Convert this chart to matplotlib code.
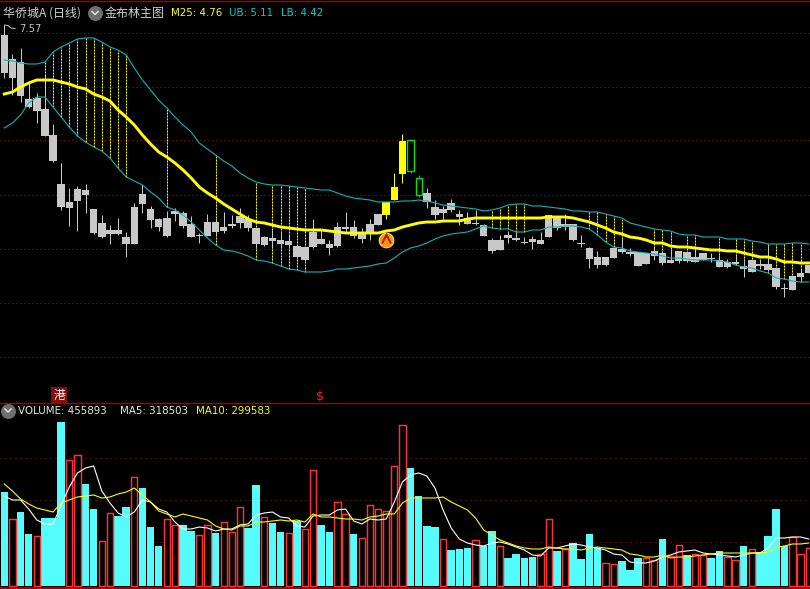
import numpy as np
from matplotlib import pyplot as plt

plt.rcParams['font.family'] = ['Noto Sans CJK SC', 'DejaVu Sans']

high = [7.58,7.31,7.37,7.02,6.92,7.10,6.61,6.22,5.97,5.99,6.01,5.76,5.70,5.60,5.67,5.53,5.82,6.00,5.79,5.67,5.74,5.77,5.74,5.69,5.52,5.71,5.67,5.73,5.70,5.77,5.70,5.57,5.49,5.55,5.52,5.51,5.39,5.38,5.66,5.55,5.45,5.63,5.73,5.65,5.57,5.66,5.71,5.83,6.12,6.51,6.45,6.10,5.97,5.85,5.79,5.86,5.75,5.73,5.75,5.61,5.47,5.50,5.54,5.54,5.48,5.49,5.53,5.70,5.68,5.71,5.61,5.50,5.38,5.34,5.28,5.38,5.47,5.37,5.33,5.32,5.38,5.34,5.36,5.34,5.33,5.38,5.32,5.32,5.30,5.26,5.30,5.26,5.25,5.26,5.39,5.17,5.02,5.09,5.16,5.20]
low = [7.07,6.90,6.83,6.77,6.62,6.49,6.23,5.75,5.59,5.54,5.72,5.51,5.47,5.41,5.50,5.28,5.41,5.72,5.57,5.54,5.48,5.64,5.57,5.48,5.42,5.49,5.50,5.52,5.57,5.57,5.54,5.37,5.39,5.37,5.37,5.37,5.27,5.24,5.37,5.41,5.30,5.38,5.53,5.47,5.42,5.45,5.60,5.66,5.85,6.02,6.12,5.88,5.77,5.66,5.66,5.73,5.60,5.61,5.60,5.49,5.32,5.35,5.42,5.44,5.41,5.36,5.41,5.48,5.55,5.55,5.44,5.38,5.17,5.17,5.19,5.27,5.32,5.29,5.19,5.21,5.25,5.20,5.22,5.22,5.23,5.23,5.25,5.23,5.18,5.17,5.21,5.08,5.13,5.16,5.14,4.96,4.88,4.95,5.03,5.12]
body_top = [7.50,7.26,7.23,6.86,6.87,6.76,6.50,6.01,5.83,5.96,5.95,5.76,5.62,5.55,5.55,5.48,5.78,5.91,5.76,5.66,5.67,5.74,5.72,5.61,5.50,5.63,5.63,5.58,5.61,5.69,5.66,5.57,5.48,5.47,5.45,5.44,5.39,5.38,5.53,5.46,5.41,5.58,5.58,5.58,5.53,5.61,5.71,5.83,5.98,6.44,6.45,6.07,5.92,5.78,5.76,5.82,5.71,5.67,5.62,5.60,5.45,5.45,5.50,5.47,5.43,5.46,5.45,5.70,5.68,5.61,5.61,5.42,5.37,5.28,5.28,5.37,5.36,5.33,5.33,5.32,5.34,5.32,5.25,5.34,5.33,5.28,5.32,5.27,5.25,5.23,5.23,5.19,5.25,5.21,5.21,5.17,4.97,5.09,5.12,5.20]
body_bot = [7.12,7.07,6.89,6.78,6.74,6.49,6.24,5.78,5.77,5.84,5.90,5.52,5.48,5.51,5.51,5.41,5.41,5.81,5.65,5.58,5.49,5.71,5.59,5.48,5.49,5.49,5.53,5.54,5.59,5.62,5.57,5.41,5.40,5.44,5.41,5.40,5.28,5.25,5.38,5.41,5.37,5.39,5.56,5.49,5.46,5.51,5.60,5.70,5.85,6.11,6.14,5.90,5.83,5.70,5.72,5.75,5.68,5.61,5.61,5.49,5.34,5.35,5.47,5.45,5.42,5.43,5.41,5.48,5.57,5.58,5.45,5.41,5.26,5.20,5.20,5.27,5.33,5.31,5.19,5.21,5.29,5.22,5.22,5.24,5.24,5.23,5.25,5.26,5.18,5.18,5.21,5.16,5.13,5.19,5.15,4.98,4.96,4.95,5.08,5.12]

upper = [7.25,7.24,7.22,7.21,7.21,7.23,7.33,7.38,7.42,7.46,7.47,7.47,7.43,7.38,7.35,7.30,7.17,7.05,6.95,6.85,6.77,6.68,6.60,6.53,6.42,6.36,6.30,6.24,6.19,6.12,6.07,6.03,6.01,
         6.00,6.00,5.99,5.98,5.97,5.96,5.95,5.95,5.92,5.89,5.87,5.86,5.85,5.83,5.83,5.83,5.84,5.84,5.85,5.84,5.82,5.80,5.79,5.78,5.77,5.76,5.74,5.75,5.77,5.80,5.81,5.81,5.79,5.79,
         5.78,5.77,5.76,5.74,5.74,5.73,5.73,5.71,5.69,5.67,5.62,5.60,5.58,5.56,5.55,5.54,5.51,5.50,5.50,5.48,5.48,5.48,5.46,5.46,5.46,5.44,5.43,5.41,5.41,5.41,5.42,5.42,5.41]
mid = [6.91,6.93,6.98,7.02,7.05,7.05,7.05,7.03,7.01,6.98,6.96,6.91,6.88,6.84,6.75,6.68,6.60,6.50,6.41,6.33,6.28,6.22,6.15,6.07,5.98,5.92,5.87,5.81,5.76,5.71,5.66,5.63,5.62,
       5.60,5.58,5.57,5.56,5.55,5.55,5.55,5.54,5.53,5.52,5.52,5.52,5.52,5.52,5.54,5.55,5.58,5.60,5.62,5.63,5.63,5.64,5.64,5.64,5.66,5.67,5.67,5.67,5.67,5.67,5.67,5.67,5.67,5.67,
       5.68,5.68,5.68,5.67,5.65,5.63,5.60,5.57,5.53,5.51,5.48,5.47,5.45,5.42,5.42,5.39,5.38,5.38,5.37,5.36,5.35,5.35,5.34,5.34,5.32,5.30,5.28,5.28,5.26,5.23,5.23,5.22,5.22]
lower = [6.57,6.62,6.70,6.82,6.88,6.88,6.78,6.68,6.58,6.49,6.43,6.38,6.34,6.27,6.17,6.08,6.04,6.00,5.93,5.87,5.78,5.75,5.70,5.63,5.55,5.47,5.40,5.35,5.34,5.32,5.29,5.25,5.24,
         5.22,5.19,5.16,5.15,5.13,5.13,5.13,5.14,5.16,5.16,5.17,5.18,5.19,5.21,5.22,5.27,5.33,5.37,5.39,5.42,5.46,5.49,5.51,5.52,5.53,5.56,5.59,5.57,5.56,5.56,5.53,5.53,5.55,5.55,
         5.58,5.58,5.59,5.59,5.58,5.56,5.50,5.43,5.38,5.37,5.34,5.33,5.32,5.31,5.29,5.27,5.27,5.26,5.25,5.25,5.25,5.24,5.23,5.20,5.18,5.17,5.14,5.12,5.07,5.06,5.04,5.03,5.03]

# volume in 10k
volume = [94,67,74,52,50,68,68,164,126,131,102,77,45,73,70,79,109,98,59,40,67,61,61,55,51,61,53,64,54,79,58,101,69,
          63,54,53,65,57,116,61,54,84,72,52,48,81,77,75,120,161,118,90,60,59,47,36,37,38,46,40,55,40,28,32,28,29,32,
          67,35,37,43,27,52,38,23,22,25,16,28,28,26,47,30,41,31,32,31,28,35,29,26,40,37,34,50,77,40,49,32,38]
ma5 = [90,86,86,77,66,62,62,81,99,113,118,120,95,83,73,69,74,86,84,77,74,64,57,57,59,58,55,57,57,61,62,71,73,
       74,69,68,60,59,70,71,71,76,77,65,62,67,66,67,84,104,111,113,110,98,76,58,47,43,41,40,43,44,42,39,36,31,30,
       38,38,40,42,41,39,38,36,32,31,24,23,23,25,29,31,34,35,36,33,32,31,30,29,31,33,33,38,48,48,49,49,47]
ma10 = [102,95,87,82,78,76,74,83,86,89,90,91,88,89,92,94,98,91,84,75,72,69,72,70,68,66,60,57,56,60,60,64,64,
        65,66,65,66,64,72,69,69,68,67,67,66,69,70,72,72,83,88,88,88,88,89,84,80,76,68,56,51,46,43,40,38,37,37,
        39,38,37,37,36,38,39,38,37,36,32,31,29,29,31,28,29,29,30,31,32,33,33,33,33,33,33,34,39,40,42,42,43]

red_days = [1,4,8,9,12,13,16,20,21,24,25,27,28,29,32,35,37,38,41,42,44,45,46,47,48,49,54,58,61,66,67,69,74,75,79,80,82,83,85,86,89,90,92,97,98,99]
yellow_days = [47,48,49]
green_days = [50,51]
dotted_days = [5,6,7,8,9,10,11,12,13,14,15,20,26,31,33,34,35,36,37,60,61,62,63,64,72,73,74,75,76,80,81,82,84,85,88,90,91,92,94,95,96,97,98]
signal_day = 47
signal_price = 5.45

price_grid = [7.52, 6.98, 6.445, 5.90, 5.36, 4.82, 4.28]
volume_grid = [128, 86, 44]

GRAY = '#c8c8c8'
YELLOW = '#ffff00'
GREEN = '#00e600'
TEAL = '#12b4b8'
CYAN = '#54fcfc'
RED = '#ff3232'
GRID = '#a01818'
LINE = '#a80000'
PX = 0.72  # one pixel, in points

days = np.arange(len(high))
high = np.array(high)
low = np.array(low)
body_top = np.array(body_top)
body_bot = np.array(body_bot)
upper = np.array(upper)
lower = np.array(lower)

fig = plt.figure(figsize=(8.10, 5.89), dpi=100, facecolor='black')
ax = fig.add_axes([0, 1 - 402 / 589, 1, 402 / 589], facecolor='black')
vol = fig.add_axes([0, 0, 1, 187 / 589], facecolor='black')
over = fig.add_axes([0, 0, 1, 1])
over.set_xlim(0, 810)
over.set_ylim(589, 0)
over.axis('off')

for a in (ax, vol):
    a.set_xlim(-0.53, 99.16)
    a.set_xticks([])
    a.set_yticks([])
    for s in a.spines.values():
        s.set_visible(False)
ax.set_ylim(3.83, 7.85)
vol.set_ylim(-3, 184)

# main panel
for g in price_grid:
    ax.axhline(g, color=GRID, lw=PX, ls=(0, (1, 3)), zorder=1)
ax.vlines(dotted_days, lower[dotted_days], upper[dotted_days], color=YELLOW, lw=PX, ls=(0, (2, 1)), zorder=2)

colors = [GRAY] * len(days)
for d in yellow_days:
    colors[d] = YELLOW
for d in green_days:
    colors[d] = GREEN
ax.vlines(days, low, high, color=colors, lw=PX, zorder=3)
solid = [d for d in days if d not in green_days]
ax.bar(days[solid], (body_top - body_bot)[solid], bottom=body_bot[solid], width=0.92,
       color=[colors[d] for d in solid], zorder=4)
ax.bar(days[green_days], (body_top - body_bot)[green_days], bottom=body_bot[green_days], width=0.78,
       facecolor='black', edgecolor=GREEN, lw=1, zorder=4)

ax.plot(days, upper, color=TEAL, lw=0.8, zorder=5)
ax.plot(days, lower, color=TEAL, lw=0.8, zorder=5)
ax.plot(days, mid, color=YELLOW, lw=2.1, zorder=6)

ax.scatter([signal_day], [signal_price], s=110, color='#f79a12', edgecolors='#ffe070', linewidths=0.8, zorder=7)
ax.scatter([signal_day], [signal_price + 0.015], s=42, marker='^', color='#c4161c', zorder=8)
ax.scatter([signal_day], [signal_price - 0.025], s=34, marker='^', color='#f79a12', zorder=9)

# volume panel
for g in volume_grid:
    vol.axhline(g, color=GRID, lw=PX, ls=(0, (1, 4)), zorder=1)
cyan_days = [d for d in days if d not in red_days]
vols = np.array(volume)
vol.bar(cyan_days, vols[cyan_days], width=0.92, color=CYAN, zorder=2)
vol.bar(red_days, vols[red_days], width=0.78, facecolor='black', edgecolor=RED, lw=1.05, zorder=2)
vol.plot(days, ma5, color='white', lw=0.8, zorder=3)
vol.plot(days, ma10, color=YELLOW, lw=0.8, zorder=4)

# frame lines
over.plot([0, 810], [402.5, 402.5], color=LINE, lw=1)
over.plot([0, 810], [587.5, 587.5], color=LINE, lw=1.4)
over.plot([0, 810], [0.5, 0.5], color=LINE, lw=1)

# header texts
lat = ['DejaVu Sans']
tsize = 7.4
over.text(3, 13, '华侨城A (日线)', color='#d0d0d0', fontsize=8.65, va='center')
over.text(105, 13, '金布林主图', color='#d0d0d0', fontsize=8.65, va='center')
over.text(171, 13, 'M25: 4.76', color=YELLOW, fontsize=tsize, va='center', family=lat)
over.text(229, 13, 'UB: 5.11', color='#10c8cc', fontsize=tsize, va='center', family=lat)
over.text(281, 13, 'LB: 4.42', color='#10c8cc', fontsize=tsize, va='center', family=lat)
over.text(18, 410.5, 'VOLUME: 455893', color='#e8e8e8', fontsize=tsize, va='center', family=lat)
over.text(120, 410.5, 'MA5: 318503', color='#e8e8e8', fontsize=tsize, va='center', family=lat)
over.text(196, 410.5, 'MA10: 299583', color=YELLOW, fontsize=tsize, va='center', family=lat)
over.text(19, 29.5, '7.57', color='#c0c0c0', fontsize=7.2, va='center', family=lat)

# little icons
for cx, cy in [(95, 13), (8, 410.5)]:
    over.scatter([cx], [cy], s=95, color='#6e6e6e', zorder=5)
    over.plot([cx - 3, cx, cx + 3], [cy - 1.5, cy + 1.5, cy - 1.5], color='#e0e0e0', lw=1.1, zorder=6)
over.plot([4.5, 4.5, 8, 11, 15], [37, 25, 25.5, 28, 28.5], color='#c8c8c8', lw=0.7)
over.text(59, 395, '港', color='white', fontsize=8.5, va='center', ha='center',
          bbox=dict(facecolor='#8a0c0c', edgecolor='none', pad=1.2))
over.text(320, 396, '$', color='#ff2020', fontsize=9, va='center', ha='center', family=lat)

fig.savefig('out.png', dpi=100, facecolor='black')
